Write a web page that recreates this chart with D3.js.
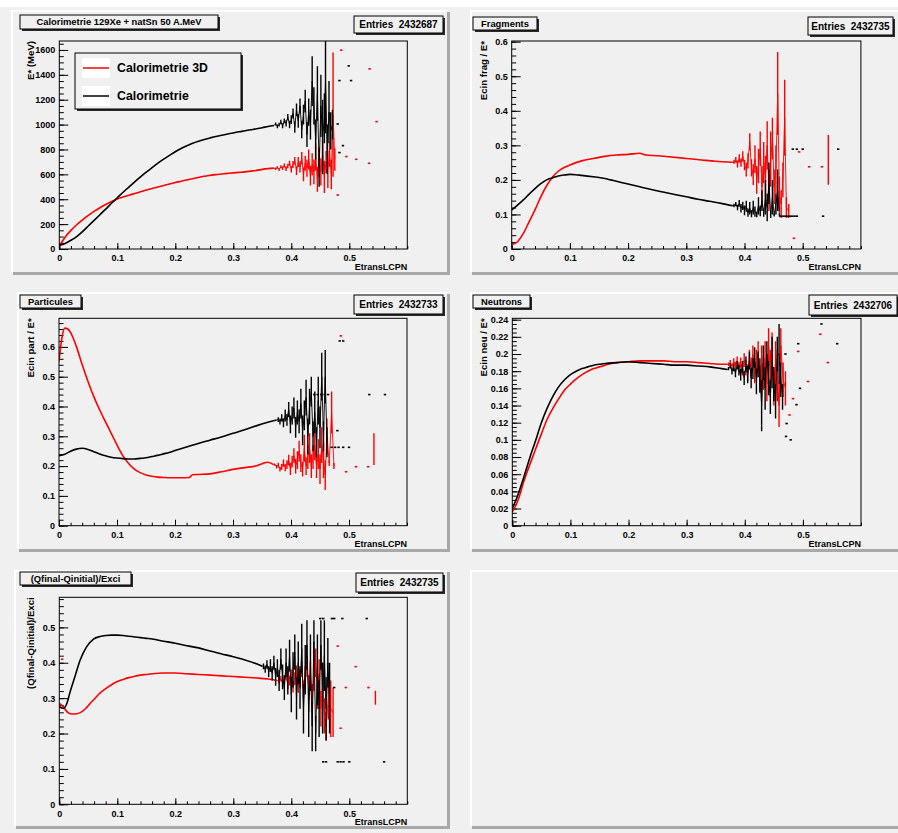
<!DOCTYPE html>
<html><head><meta charset="utf-8">
<script src="https://cdn.jsdelivr.net/npm/d3@7"></script>
<style>
body{margin:0;background:#f0f0f0}
svg{display:block}
text{font-family:"Liberation Sans",Arial,Helvetica,sans-serif;font-weight:bold;white-space:pre}
</style>
</head><body>
<svg id="c" width="898" height="833"></svg>
<script>
// ---------------- DATA ----------------
const titles = ["Calorimetrie 129Xe + natSn 50 A.MeV","Fragments","Particules","Neutrons","(Qfinal-Qinitial)/Exci"];
const entries = ["2432687","2432735","2432733","2432706","2432735"];
const yTitles = ["E* (MeV)","Ecin frag / E*","Ecin part / E*","Ecin neu / E*","(Qfinal-Qinitial)/Exci"];
const xTitle = "EtransLCPN";
const legendLabels = ["Calorimetrie 3D","Calorimetrie"];
const xTicks = [0,0.1,0.2,0.3,0.4,0.5];
const xTickLabels = ["0","0.1","0.2","0.3","0.4","0.5"];
const yTicks1 = [0,200,400,600,800,1000,1200,1400,1600];
const yTicks2 = [0,0.1,0.2,0.3,0.4,0.5,0.6];
const yTicks3 = [0,0.1,0.2,0.3,0.4,0.5,0.6];
const yTicks4 = [0,0.02,0.04,0.06,0.08,0.1,0.12,0.14,0.16,0.18,0.2,0.22,0.24];
const yTicks5 = [0,0.1,0.2,0.3,0.4,0.5];

// Panel 1 : E* (MeV)   [x, y]  and noisy bins [x, y, error]
const p1BlackSmooth = [[0,30],[0.01,45],[0.02,70],[0.03,100],[0.04,140],[0.05,185],[0.06,230],[0.07,275],[0.08,320],[0.09,368],[0.10,412],[0.11,456],[0.12,498],[0.13,540],[0.14,580],[0.15,618],[0.16,655],[0.17,690],[0.18,722],[0.19,752],[0.20,782],[0.21,808],[0.22,830],[0.23,850],[0.24,866],[0.25,880],[0.26,893],[0.27,905],[0.28,915],[0.29,924],[0.30,933],[0.31,942],[0.32,950],[0.33,958],[0.34,966],[0.35,975],[0.36,985],[0.37,993]];
const p1BlackNoise = [[0.373,1005,12],[0.376,985,15],[0.379,1000,15],[0.382,1020,18],[0.385,990,20],[0.388,1030,20],[0.391,1010,25],[0.394,1060,25],[0.397,1000,30],[0.400,1040,35],[0.403,1090,40],[0.406,980,45],[0.409,1120,50],[0.412,1030,55],[0.415,1150,60],[0.418,960,70],[0.421,1080,80],[0.424,1190,90],[0.427,920,100],[0.430,1100,110],[0.433,1000,120],[0.436,1350,200],[0.439,1150,150],[0.442,880,160],[0.445,1250,220],[0.448,650,150],[0.451,1150,250],[0.454,900,300],[0.457,1050,200],[0.459,1350,420],[0.462,800,200],[0.465,1100,250],[0.468,950,150],[0.471,1000,120]];
const p1RedSmooth = [[0,20],[0.005,60],[0.01,95],[0.02,150],[0.03,195],[0.04,235],[0.05,270],[0.06,302],[0.07,332],[0.08,358],[0.09,382],[0.10,402],[0.11,418],[0.12,432],[0.13,446],[0.14,460],[0.15,474],[0.16,487],[0.17,499],[0.18,511],[0.19,523],[0.20,535],[0.21,545],[0.22,555],[0.23,565],[0.24,575],[0.25,585],[0.26,592],[0.27,598],[0.28,603],[0.29,608],[0.30,612],[0.31,616],[0.32,620],[0.33,626],[0.34,632],[0.35,640],[0.36,646],[0.37,650]];
const p1RedNoise = [[0.373,645,10],[0.376,655,10],[0.379,640,12],[0.382,662,12],[0.385,650,15],[0.388,672,15],[0.391,645,18],[0.394,668,18],[0.397,690,20],[0.400,640,25],[0.403,680,28],[0.406,710,30],[0.409,630,35],[0.412,700,40],[0.415,660,45],[0.418,730,50],[0.421,600,55],[0.424,690,60],[0.427,650,70],[0.430,720,80],[0.433,590,80],[0.436,680,90],[0.439,620,100],[0.442,740,110],[0.445,560,100],[0.448,700,120],[0.451,620,110],[0.454,760,120],[0.457,580,130],[0.460,700,90],[0.463,640,150],[0.466,760,100],[0.469,600,120],[0.472,1080,500],[0.475,720,90]];
const p1BlackDots = [[0.499,1472],[0.483,1354],[0.503,1354],[0.480,1005],[0.489,831],[0.483,775]];
const p1RedDots = [[0.486,1598],[0.535,1448],[0.547,1024],[0.495,743],[0.512,721],[0.534,689],[0.480,434]];
const p1RedBars = [];

// Panel 2 : Fragments
const p2BlackSmooth = [[0,0.113],[0.01,0.127],[0.02,0.142],[0.03,0.159],[0.04,0.175],[0.05,0.189],[0.06,0.2],[0.07,0.206],[0.08,0.211],[0.09,0.214],[0.10,0.216],[0.11,0.215],[0.12,0.213],[0.13,0.211],[0.14,0.209],[0.15,0.207],[0.16,0.204],[0.17,0.2],[0.18,0.196],[0.19,0.192],[0.20,0.188],[0.22,0.18],[0.24,0.172],[0.26,0.165],[0.28,0.158],[0.30,0.151],[0.32,0.144],[0.34,0.138],[0.36,0.132],[0.38,0.125]];
const p2BlackNoise = [[0.382,0.126,0.005],[0.385,0.13,0.006],[0.388,0.12,0.008],[0.391,0.132,0.01],[0.394,0.118,0.012],[0.397,0.125,0.012],[0.400,0.112,0.014],[0.403,0.124,0.016],[0.406,0.105,0.012],[0.409,0.118,0.018],[0.412,0.102,0.01],[0.415,0.12,0.02],[0.418,0.108,0.015],[0.421,0.1,0.008],[0.424,0.125,0.025],[0.427,0.11,0.015],[0.430,0.14,0.03],[0.433,0.105,0.012],[0.436,0.15,0.05],[0.439,0.12,0.04],[0.442,0.19,0.06],[0.445,0.1,0.01],[0.448,0.15,0.05],[0.451,0.098,0.004],[0.454,0.13,0.03],[0.457,0.17,0.06],[0.460,0.098,0.004]];
const p2RedSmooth = [[0,0.012],[0.01,0.021],[0.02,0.045],[0.03,0.079],[0.04,0.113],[0.05,0.151],[0.06,0.183],[0.07,0.208],[0.08,0.225],[0.09,0.236],[0.10,0.243],[0.12,0.255],[0.14,0.262],[0.16,0.268],[0.18,0.272],[0.20,0.274],[0.22,0.277],[0.23,0.272],[0.25,0.27],[0.27,0.267],[0.30,0.262],[0.33,0.257],[0.35,0.254],[0.38,0.251]];
const p2RedNoise = [[0.382,0.252,0.006],[0.385,0.258,0.008],[0.388,0.246,0.01],[0.391,0.262,0.012],[0.394,0.25,0.012],[0.397,0.268,0.015],[0.400,0.243,0.015],[0.403,0.23,0.02],[0.406,0.255,0.022],[0.409,0.31,0.025],[0.412,0.235,0.025],[0.415,0.215,0.03],[0.418,0.26,0.04],[0.421,0.2,0.04],[0.424,0.24,0.05],[0.427,0.29,0.05],[0.430,0.18,0.06],[0.433,0.25,0.06],[0.436,0.21,0.06],[0.439,0.3,0.07],[0.442,0.17,0.06],[0.445,0.26,0.08],[0.448,0.32,0.06],[0.451,0.18,0.05],[0.454,0.23,0.07],[0.457,0.45,0.12],[0.460,0.16,0.05],[0.463,0.13,0.04],[0.466,0.2,0.05],[0.469,0.38,0.11],[0.472,0.12,0.03],[0.476,0.11,0.02]];
const p2BlackDots = [[0.483,0.289],[0.490,0.289],[0.500,0.289],[0.561,0.289],[0.535,0.095],[0.462,0.095],[0.466,0.095],[0.470,0.095],[0.474,0.095],[0.478,0.095],[0.482,0.095],[0.486,0.095],[0.490,0.095]];
const p2RedDots = [[0.494,0.281],[0.511,0.238],[0.533,0.238],[0.485,0.031]];
const p2RedBars = [[0.544,0.258,0.072]];

// Panel 3 : Particules
const p3BlackSmooth = [[0,0.235],[0.01,0.24],[0.02,0.25],[0.03,0.257],[0.04,0.26],[0.05,0.256],[0.06,0.248],[0.07,0.241],[0.08,0.235],[0.09,0.23],[0.10,0.227],[0.11,0.225],[0.12,0.224],[0.13,0.224],[0.14,0.226],[0.15,0.228],[0.16,0.232],[0.17,0.236],[0.18,0.241],[0.19,0.246],[0.20,0.252],[0.22,0.264],[0.24,0.276],[0.26,0.287],[0.28,0.298],[0.30,0.31],[0.32,0.322],[0.34,0.335],[0.36,0.347],[0.375,0.355]];
const p3BlackNoise = [[0.378,0.356,0.008],[0.381,0.35,0.01],[0.384,0.362,0.012],[0.387,0.345,0.015],[0.390,0.37,0.02],[0.393,0.355,0.02],[0.396,0.39,0.025],[0.399,0.34,0.03],[0.402,0.37,0.03],[0.405,0.395,0.035],[0.408,0.33,0.035],[0.411,0.38,0.04],[0.414,0.35,0.04],[0.417,0.41,0.05],[0.420,0.32,0.05],[0.423,0.37,0.05],[0.426,0.43,0.06],[0.429,0.3,0.06],[0.432,0.4,0.06],[0.435,0.45,0.05],[0.438,0.3,0.05],[0.441,0.38,0.07],[0.444,0.28,0.05],[0.447,0.42,0.08],[0.450,0.33,0.07],[0.453,0.5,0.08],[0.456,0.3,0.05],[0.459,0.5,0.09],[0.462,0.28,0.05]];
const p3RedSmooth = [[0,0.551],[0.005,0.63],[0.01,0.663],[0.015,0.66],[0.02,0.648],[0.03,0.601],[0.04,0.54],[0.05,0.484],[0.06,0.433],[0.07,0.389],[0.08,0.349],[0.09,0.31],[0.10,0.271],[0.11,0.235],[0.12,0.209],[0.13,0.19],[0.14,0.178],[0.15,0.17],[0.16,0.166],[0.17,0.163],[0.18,0.162],[0.19,0.161],[0.20,0.161],[0.21,0.161],[0.225,0.162],[0.23,0.171],[0.24,0.172],[0.26,0.174],[0.28,0.181],[0.30,0.189],[0.32,0.195],[0.34,0.201],[0.35,0.208],[0.36,0.213],[0.37,0.205]];
const p3RedNoise = [[0.372,0.205,0.004],[0.375,0.198,0.006],[0.378,0.203,0.008],[0.381,0.19,0.008],[0.384,0.197,0.01],[0.387,0.21,0.012],[0.390,0.195,0.012],[0.393,0.205,0.015],[0.396,0.22,0.018],[0.399,0.19,0.02],[0.402,0.215,0.02],[0.405,0.235,0.025],[0.408,0.2,0.025],[0.411,0.22,0.03],[0.414,0.25,0.035],[0.417,0.21,0.03],[0.420,0.19,0.025],[0.423,0.26,0.045],[0.426,0.2,0.03],[0.429,0.23,0.04],[0.432,0.26,0.05],[0.435,0.2,0.04],[0.438,0.23,0.04],[0.441,0.27,0.05],[0.444,0.2,0.04],[0.447,0.24,0.05],[0.450,0.19,0.05],[0.453,0.27,0.06],[0.456,0.22,0.06],[0.459,0.17,0.05],[0.462,0.3,0.06],[0.466,0.21,0.01],[0.470,0.38,0.07],[0.474,0.2,0.01]];
const p3BlackDots = [[0.484,0.62],[0.490,0.62],[0.440,0.44],[0.446,0.44],[0.452,0.44],[0.458,0.44],[0.464,0.44],[0.535,0.44],[0.562,0.44],[0.470,0.263],[0.476,0.263],[0.482,0.263],[0.490,0.263],[0.500,0.263],[0.480,0.319]];
const p3RedDots = [[0.486,0.637],[0.495,0.181],[0.512,0.198],[0.533,0.198]];
const p3RedBars = [[0.543,0.257,0.053]];

// Panel 4 : Neutrons
const p4BlackSmooth = [[0,0.02],[0.0075,0.032],[0.02,0.057],[0.03,0.079],[0.04,0.099],[0.05,0.12],[0.06,0.137],[0.07,0.151],[0.08,0.162],[0.09,0.17],[0.10,0.176],[0.11,0.18],[0.12,0.183],[0.13,0.185],[0.14,0.187],[0.15,0.188],[0.16,0.189],[0.18,0.19],[0.20,0.191],[0.22,0.19],[0.24,0.189],[0.26,0.188],[0.28,0.187],[0.30,0.187],[0.32,0.186],[0.34,0.185],[0.36,0.183],[0.37,0.182]];
const p4BlackNoise = [[0.372,0.183,0.002],[0.375,0.186,0.003],[0.378,0.18,0.004],[0.381,0.184,0.004],[0.384,0.178,0.005],[0.387,0.187,0.005],[0.390,0.181,0.006],[0.393,0.176,0.007],[0.396,0.185,0.007],[0.399,0.172,0.008],[0.402,0.188,0.009],[0.405,0.176,0.01],[0.408,0.192,0.01],[0.411,0.172,0.012],[0.414,0.183,0.012],[0.417,0.196,0.012],[0.420,0.168,0.015],[0.423,0.188,0.015],[0.426,0.175,0.02],[0.429,0.14,0.03],[0.432,0.19,0.02],[0.435,0.16,0.025],[0.438,0.2,0.015],[0.441,0.172,0.02],[0.444,0.15,0.02],[0.447,0.19,0.03],[0.450,0.165,0.02],[0.453,0.145,0.02],[0.456,0.2,0.02],[0.459,0.2,0.035],[0.462,0.17,0.02],[0.465,0.15,0.015]];
const p4RedSmooth = [[0,0.016],[0.01,0.03],[0.02,0.052],[0.03,0.071],[0.04,0.089],[0.05,0.107],[0.06,0.124],[0.07,0.137],[0.08,0.148],[0.09,0.158],[0.10,0.165],[0.11,0.171],[0.12,0.176],[0.13,0.18],[0.14,0.183],[0.15,0.185],[0.16,0.187],[0.17,0.189],[0.18,0.19],[0.20,0.191],[0.22,0.192],[0.24,0.192],[0.26,0.192],[0.28,0.191],[0.30,0.191],[0.32,0.19],[0.34,0.189],[0.36,0.188],[0.37,0.188]];
const p4RedNoise = [[0.372,0.188,0.002],[0.375,0.19,0.003],[0.378,0.186,0.003],[0.381,0.191,0.004],[0.384,0.187,0.004],[0.387,0.192,0.005],[0.390,0.185,0.006],[0.393,0.19,0.006],[0.396,0.182,0.007],[0.399,0.193,0.008],[0.402,0.184,0.009],[0.405,0.178,0.01],[0.408,0.195,0.01],[0.411,0.185,0.011],[0.414,0.2,0.01],[0.417,0.178,0.012],[0.420,0.19,0.015],[0.423,0.2,0.015],[0.426,0.172,0.015],[0.429,0.19,0.02],[0.432,0.178,0.02],[0.435,0.195,0.02],[0.438,0.165,0.02],[0.441,0.21,0.02],[0.444,0.18,0.025],[0.447,0.2,0.025],[0.450,0.16,0.02],[0.453,0.19,0.025],[0.456,0.175,0.03],[0.459,0.14,0.025],[0.462,0.21,0.02],[0.466,0.17,0.02],[0.470,0.16,0.02]];
const p4BlackDots = [[0.470,0.2],[0.492,0.212],[0.532,0.235],[0.559,0.212],[0.495,0.16],[0.489,0.141],[0.472,0.119],[0.471,0.104],[0.479,0.1]];
const p4RedDots = [[0.492,0.203],[0.530,0.223],[0.543,0.19],[0.509,0.168],[0.483,0.148],[0.477,0.129]];
const p4RedBars = [];

// Panel 5 : (Qfinal-Qinitial)/Exci
const p5BlackSmooth = [[0,0.276],[0.007,0.271],[0.013,0.285],[0.018,0.314],[0.027,0.361],[0.036,0.408],[0.047,0.445],[0.059,0.467],[0.07,0.474],[0.08,0.477],[0.09,0.478],[0.10,0.478],[0.11,0.477],[0.12,0.475],[0.13,0.473],[0.14,0.471],[0.15,0.469],[0.16,0.467],[0.18,0.461],[0.20,0.455],[0.22,0.448],[0.24,0.442],[0.26,0.433],[0.28,0.425],[0.30,0.417],[0.32,0.408],[0.34,0.397],[0.35,0.39]];
const p5BlackNoise = [[0.352,0.39,0.008],[0.355,0.382,0.01],[0.358,0.395,0.012],[0.361,0.375,0.015],[0.364,0.392,0.018],[0.367,0.37,0.02],[0.370,0.4,0.02],[0.373,0.36,0.025],[0.376,0.385,0.025],[0.379,0.35,0.03],[0.382,0.41,0.03],[0.385,0.36,0.035],[0.388,0.33,0.035],[0.391,0.4,0.04],[0.394,0.35,0.04],[0.397,0.42,0.045],[0.400,0.31,0.05],[0.403,0.38,0.05],[0.406,0.43,0.05],[0.409,0.3,0.06],[0.412,0.4,0.06],[0.415,0.33,0.06],[0.418,0.44,0.07],[0.421,0.27,0.07],[0.424,0.38,0.07],[0.427,0.45,0.07],[0.430,0.26,0.07],[0.433,0.4,0.08],[0.436,0.22,0.07],[0.439,0.46,0.06],[0.442,0.2,0.05],[0.445,0.38,0.1],[0.448,0.27,0.08],[0.451,0.45,0.07],[0.454,0.3,0.1],[0.457,0.42,0.1],[0.460,0.27,0.09],[0.463,0.4,0.07],[0.466,0.3,0.1]];
const p5RedSmooth = [[0,0.285],[0.007,0.276],[0.013,0.262],[0.021,0.255],[0.03,0.256],[0.036,0.259],[0.045,0.27],[0.053,0.285],[0.06,0.297],[0.07,0.314],[0.08,0.327],[0.09,0.338],[0.10,0.347],[0.11,0.353],[0.12,0.358],[0.13,0.362],[0.14,0.365],[0.15,0.367],[0.16,0.369],[0.18,0.371],[0.20,0.371],[0.22,0.369],[0.24,0.367],[0.26,0.365],[0.28,0.363],[0.30,0.361],[0.32,0.359],[0.34,0.357],[0.36,0.354],[0.375,0.35]];
const p5RedNoise = [[0.379,0.347,0.006],[0.382,0.355,0.008],[0.385,0.342,0.01],[0.388,0.352,0.01],[0.391,0.362,0.012],[0.394,0.338,0.012],[0.397,0.35,0.014],[0.400,0.366,0.015],[0.403,0.332,0.016],[0.406,0.355,0.018],[0.409,0.372,0.02],[0.412,0.335,0.02],[0.415,0.36,0.02],[0.418,0.382,0.022],[0.421,0.325,0.025],[0.424,0.36,0.03],[0.427,0.39,0.03],[0.430,0.33,0.035],[0.433,0.37,0.035],[0.436,0.3,0.04],[0.439,0.36,0.04],[0.442,0.4,0.04],[0.445,0.32,0.05],[0.448,0.37,0.04],[0.451,0.27,0.05],[0.454,0.34,0.06],[0.457,0.25,0.05],[0.460,0.22,0.04],[0.464,0.3,0.06],[0.468,0.27,0.08],[0.472,0.26,0.07]];
const p5BlackDots = [[0.450,0.525],[0.455,0.525],[0.470,0.525],[0.474,0.525],[0.488,0.525],[0.530,0.525],[0.455,0.12],[0.460,0.12],[0.480,0.12],[0.485,0.12],[0.490,0.12],[0.500,0.12],[0.560,0.12],[0.474,0.33]];
const p5RedDots = [[0.005,0.41],[0.494,0.33],[0.533,0.33],[0.511,0.389],[0.480,0.447],[0.485,0.215]];
const p5RedBars = [[0.545,0.301,0.02]];

// ---------------- DRAWING ----------------
const RED = "#ff0000", BLACK = "#000000", BG = "#f0f0f0";
const svg = d3.select("#c");
svg.append("rect").attr("width",898).attr("height",833).attr("fill",BG);
svg.append("rect").attr("width",898).attr("height",7).attr("fill","#ffffff");

function drawPad(x0,y0,x1,y1){
  const g = svg.append("g");
  g.append("rect").attr("x",x0).attr("y",y0).attr("width",x1-x0).attr("height",y1-y0).attr("fill",BG);
  g.append("path").attr("d",`M${x0+2},${y1-1.5}H${x1-1.5}V${y0+2}`).attr("stroke","#a8a8a8").attr("stroke-width",3).attr("fill","none");
  g.append("path").attr("d",`M${x0+1},${y1-3}V${y0+1}H${x1-3}`).attr("stroke","#ffffff").attr("stroke-width",2).attr("fill","none");
}

function box(g, b, label, size){
  g.append("rect").attr("x",b[0]+2).attr("y",b[1]+2).attr("width",b[2]-b[0]).attr("height",b[3]-b[1]).attr("fill","#2a2a2a");
  g.append("rect").attr("x",b[0]).attr("y",b[1]).attr("width",b[2]-b[0]).attr("height",b[3]-b[1]).attr("fill",BG).attr("stroke","#000").attr("stroke-width",1);
  g.append("text").attr("x",(b[0]+b[2])/2).attr("y",(b[1]+b[3])/2).attr("dy","0.36em").attr("text-anchor","middle")
    .attr("xml:space","preserve").style("white-space","pre")
    .attr("font-size",size).attr("fill","#000").text(label);
}

const fmt = v => String(+v.toFixed(3));

function panel(cfg){
  const g = svg.append("g");
  const f = cfg.frame;
  const x = d3.scaleLinear().domain([0,0.6]).range([f.l,f.r]);
  const y = d3.scaleLinear().domain([0,cfg.ymax]).range([f.b,f.t]);
  const id = "clip"+cfg.idx;
  svg.append("clipPath").attr("id",id).append("rect").attr("x",f.l).attr("y",f.t).attr("width",f.r-f.l).attr("height",f.b-f.t);

  // axes (ticks inside the frame, ROOT style)
  const xMinor = d3.range(0,0.6001,0.02);
  const yMinor = d3.range(0,cfg.ymax+1e-9,cfg.yminor);
  const ax = g.append("g").attr("transform",`translate(0,${f.b})`);
  ax.call(d3.axisBottom(x).tickValues(xMinor).tickSize(-3).tickFormat(""));
  const axM = g.append("g").attr("transform",`translate(0,${f.b})`);
  axM.call(d3.axisBottom(x).tickValues(xTicks).tickSize(-6).tickPadding(6).tickFormat((d,i)=>xTickLabels[i]));
  const ay = g.append("g").attr("transform",`translate(${f.l},0)`);
  ay.call(d3.axisLeft(y).tickValues(yMinor).tickSize(-4.5).tickFormat(""));
  const ayM = g.append("g").attr("transform",`translate(${f.l},0)`);
  ayM.call(d3.axisLeft(y).tickValues(cfg.yticks).tickSize(-9).tickPadding(4).tickFormat(fmt));
  [ax,axM,ay,ayM].forEach(a=>{
    a.select(".domain").remove();
    a.selectAll("line").attr("stroke","#000").attr("stroke-width",1);
    a.selectAll("text").attr("font-family",null).style("font-family",'"Liberation Sans",Arial,sans-serif').style("font-weight","bold").style("font-size","9px").attr("fill","#000");
  });

  // series
  const cg = g.append("g").attr("clip-path",`url(#${id})`);
  const smoothLine = d3.line().x(d=>x(d[0])).y(d=>y(d[1])).curve(d3.curveMonotoneX);
  const rawLine = d3.line().x(d=>x(d[0])).y(d=>y(d[1]));
  cfg.series.forEach(s=>{
    cg.append("path").datum(s.smooth).attr("d",smoothLine).attr("fill","none").attr("stroke",s.color).attr("stroke-width",1.6);
    cg.append("path").datum([s.smooth[s.smooth.length-1]].concat(s.noise)).attr("d",rawLine).attr("fill","none").attr("stroke",s.color).attr("stroke-width",0.9);
    cg.selectAll(null).data(s.noise.concat(s.bars)).join("line")
      .attr("x1",d=>x(d[0])).attr("x2",d=>x(d[0]))
      .attr("y1",d=>y(d[1]-d[2])).attr("y2",d=>y(d[1]+d[2]))
      .attr("stroke",s.color).attr("stroke-width",1.4);
    cg.selectAll(null).data(s.dots).join("rect")
      .attr("x",d=>x(d[0])-1.2).attr("y",d=>y(d[1])-0.8).attr("width",2.4).attr("height",1.6).attr("fill",s.color);
  });

  // frame
  g.append("rect").attr("x",f.l).attr("y",f.t).attr("width",f.r-f.l).attr("height",f.b-f.t).attr("fill","none").attr("stroke","#000").attr("stroke-width",1);

  // axis titles
  g.append("text").attr("x",f.r).attr("y",f.b+21).attr("text-anchor","end").attr("font-size",9).attr("fill","#000").text(xTitle);
  g.append("text").attr("transform",`translate(${f.l-25},${f.t}) rotate(-90)`).attr("text-anchor","end").attr("font-size",9.6).attr("fill","#000").text(yTitles[cfg.idx]);

  // title and statistics boxes
  box(g, cfg.titleBox, titles[cfg.idx], 9.4);
  box(g, cfg.statBox, "Entries  " + entries[cfg.idx], 10);
  return g;
}

drawPad(11,10,450,275);
drawPad(470,10,905,275);
drawPad(17,292,450,552);
drawPad(470,292,905,552);
drawPad(14,570,450,829);
drawPad(470,570,905,829);

const g1 = panel({idx:0, frame:{l:59.3,r:407.3,t:41,b:249}, ymax:1672, yminor:50, yticks:yTicks1,
  titleBox:[20,15,218,29], statBox:[354,16,443,33],
  series:[{color:RED,smooth:p1RedSmooth,noise:p1RedNoise,dots:p1RedDots,bars:p1RedBars},
          {color:BLACK,smooth:p1BlackSmooth,noise:p1BlackNoise,dots:p1BlackDots,bars:[]}]});
panel({idx:1, frame:{l:511.7,r:860.9,t:41,b:249}, ymax:0.602, yminor:0.02, yticks:yTicks2,
  titleBox:[473,17,537,30], statBox:[808,17,893,35],
  series:[{color:RED,smooth:p2RedSmooth,noise:p2RedNoise,dots:p2RedDots,bars:p2RedBars},
          {color:BLACK,smooth:p2BlackSmooth,noise:p2BlackNoise,dots:p2BlackDots,bars:[]}]});
panel({idx:2, frame:{l:59,r:407,t:318.3,b:525.7}, ymax:0.696, yminor:0.02, yticks:yTicks3,
  titleBox:[20,295,81,308], statBox:[354,295,443,314],
  series:[{color:RED,smooth:p3RedSmooth,noise:p3RedNoise,dots:p3RedDots,bars:p3RedBars},
          {color:BLACK,smooth:p3BlackSmooth,noise:p3BlackNoise,dots:p3BlackDots,bars:[]}]});
panel({idx:3, frame:{l:512.3,r:861,t:318.3,b:525.7}, ymax:0.2416, yminor:0.005, yticks:yTicks4,
  titleBox:[473,295,530,308], statBox:[809,295,897,315],
  series:[{color:RED,smooth:p4RedSmooth,noise:p4RedNoise,dots:p4RedDots,bars:p4RedBars},
          {color:BLACK,smooth:p4BlackSmooth,noise:p4BlackNoise,dots:p4BlackDots,bars:[]}]});
panel({idx:4, frame:{l:59.3,r:407.3,t:597.3,b:804.3}, ymax:0.585, yminor:0.02, yticks:yTicks5,
  titleBox:[20,572,131,585], statBox:[356,573,443,592],
  series:[{color:RED,smooth:p5RedSmooth,noise:p5RedNoise,dots:p5RedDots,bars:p5RedBars},
          {color:BLACK,smooth:p5BlackSmooth,noise:p5BlackNoise,dots:p5BlackDots,bars:[]}]});

// legend (panel 1)
const lg = g1.append("g");
lg.append("rect").attr("x",77).attr("y",55).attr("width",166).attr("height",56).attr("fill","#2a2a2a");
lg.append("rect").attr("x",75).attr("y",53).attr("width",166).attr("height",56).attr("fill",BG).attr("stroke","#000").attr("stroke-width",1);
const legendColors = [RED, BLACK];
legendLabels.forEach((lab,i)=>{
  const cy = 68 + i*28;
  lg.append("rect").attr("x",82).attr("y",cy-10).attr("width",28).attr("height",20).attr("fill","#ffffff");
  lg.append("line").attr("x1",83).attr("x2",109).attr("y1",cy).attr("y2",cy).attr("stroke",legendColors[i]).attr("stroke-width",1.5);
  lg.append("text").attr("x",117).attr("y",cy).attr("dy","0.36em").attr("font-size",12.3).attr("fill","#000").text(lab);
});
</script>
</body></html>
